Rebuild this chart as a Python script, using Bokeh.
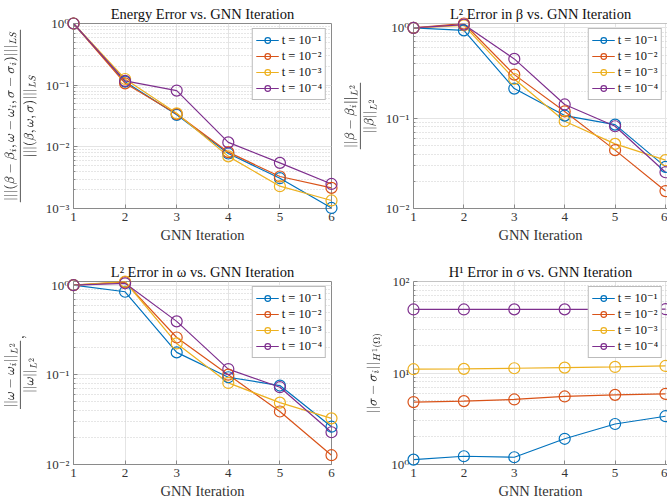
from bokeh.plotting import figure
from bokeh.layouts import gridplot
from bokeh.models import (FixedTicker, CustomJSTickFormatter, Legend, LegendItem, Span)
from bokeh.embed import file_html
from bokeh.resources import INLINE

# ---- data -------------------------------------------------------------
gnn_iter = [1, 2, 3, 4, 5, 6]
t_labels = ["t = 10\u207b\u00b9", "t = 10\u207b\u00b2", "t = 10\u207b\u00b3", "t = 10\u207b\u2074"]

# relative energy (least-squares) error, one list per t
energy_t1 = [1.0, 0.114, 0.033, 0.0078, 0.0031, 0.00102]
energy_t2 = [1.0, 0.107, 0.034, 0.0082, 0.0033, 0.00216]
energy_t3 = [1.0, 0.126, 0.035, 0.0070, 0.0023, 0.00135]
energy_t4 = [1.0, 0.117, 0.0817, 0.0118, 0.0055, 0.0025]

# relative L2 error in beta
beta_t1 = [1.0, 0.94, 0.213, 0.107, 0.085, 0.0289]
beta_t2 = [1.0, 1.12, 0.304, 0.119, 0.0443, 0.0156]
beta_t3 = [1.0, 1.07, 0.272, 0.0927, 0.052, 0.0343]
beta_t4 = [1.0, 1.09, 0.454, 0.142, 0.0815, 0.0252]

# relative L2 error in omega
omega_t1 = [1.0, 0.845, 0.178, 0.094, 0.076, 0.0264]
omega_t2 = [1.0, 1.08, 0.261, 0.1005, 0.039, 0.0127]
omega_t3 = [1.0, 1.10, 0.224, 0.0813, 0.049, 0.0327]
omega_t4 = [1.0, 1.05, 0.395, 0.116, 0.0728, 0.0229]

# H1 error in sigma
sigma_t1 = [1.13, 1.23, 1.20, 1.91, 2.77, 3.37]
sigma_t2 = [4.81, 4.93, 5.14, 5.54, 5.77, 5.91]
sigma_t3 = [11.0, 11.1, 11.27, 11.45, 11.65, 11.94]
sigma_t4 = [49.5, 49.5, 49.6, 49.6, 49.7, 49.8]

# ---- style ------------------------------------------------------------
COLORS = ["#0072BD", "#D95319", "#EDB120", "#7E2F8E"]
FONT = "'Liberation Serif', 'DejaVu Serif', serif"
BOX = "#8a8a8a"

SUP_JS = """
const s = {'-': '\\u207b', '0': '\\u2070', '1': '\\u00b9', '2': '\\u00b2', '3': '\\u00b3',
           '4': '\\u2074', '5': '\\u2075', '6': '\\u2076', '7': '\\u2077', '8': '\\u2078', '9': '\\u2079'};
const e = Math.round(Math.log10(tick));
return '10' + String(e).split('').map(c => s[c]).join('');
"""


def decade_ticks(lo_exp, hi_exp):
    major = [10.0 ** k for k in range(lo_exp, hi_exp + 1)]
    minor = [m * 10.0 ** k for k in range(lo_exp, hi_exp) for m in range(2, 10)]
    return FixedTicker(ticks=major, minor_ticks=minor)


def panel(title, ylabel, ylabel_size, series, y_lo, y_hi, lo_exp, hi_exp, x_end,
          width, height, borders, right_side):
    left, right, top, bottom = borders
    p = figure(width=width, height=height, x_range=(1, x_end), y_range=(y_lo, y_hi),
               y_axis_type="log", output_backend="svg", toolbar_location=None,
               min_border_left=left, min_border_right=right,
               min_border_top=top, min_border_bottom=bottom,
               title=title)
    p.background_fill_color = "white"
    p.border_fill_color = "white"

    p.title.align = "center"
    p.title.text_font = FONT
    p.title.text_font_size = "14.5px"
    p.title.text_font_style = "normal"
    p.title.text_color = "#111111"
    p.title.standoff = 3

    p.xaxis.ticker = FixedTicker(ticks=gnn_iter, minor_ticks=[])
    p.yaxis.ticker = decade_ticks(lo_exp, hi_exp)
    p.yaxis.formatter = CustomJSTickFormatter(code=SUP_JS)
    p.xaxis.axis_label = "GNN Iteration"
    p.yaxis.axis_label = ylabel

    for ax in (p.xaxis[0], p.yaxis[0]):
        ax.major_label_text_font = FONT
        ax.major_label_text_font_size = "13px"
        ax.major_label_text_color = "#333333"
        ax.axis_label_text_font = FONT
        ax.axis_label_text_font_size = "14.5px"
        ax.axis_label_text_font_style = "normal"
        ax.axis_label_text_color = "#333333"
        ax.major_tick_in = 4
        ax.major_tick_out = 0
        ax.minor_tick_in = 2
        ax.minor_tick_out = 0
        ax.major_tick_line_color = BOX
        ax.minor_tick_line_color = BOX
        ax.axis_line_color = BOX
        ax.major_label_standoff = 4
    p.yaxis.axis_label_text_font_size = ylabel_size
    p.xaxis.axis_label_standoff = 3
    p.yaxis.axis_label_standoff = 6

    p.xgrid.grid_line_color = "#e4e4e4"
    p.ygrid.grid_line_color = "#e4e4e4"
    p.ygrid.minor_grid_line_color = "#cdcdcd"
    p.ygrid.minor_grid_line_dash = "1 2"

    if right_side:
        p.outline_line_color = None
        p.add_layout(Span(location=y_hi, dimension="width", line_color=BOX, line_width=1))
    else:
        p.outline_line_color = BOX

    items = []
    for ys, col, lab in zip(series, COLORS, t_labels):
        ln = p.line(gnn_iter, ys, line_color=col, line_width=1.2)
        sc = p.scatter(gnn_iter, ys, marker="circle", size=11, fill_color=None,
                       line_color=col, line_width=1.2, level="overlay")
        items.append(LegendItem(label=lab, renderers=[ln, sc]))

    leg = Legend(items=items, location="top_right", margin=5, padding=3, spacing=0,
                 glyph_width=23, glyph_height=14, label_height=14, label_standoff=3,
                 label_text_font=FONT, label_text_font_size="12.5px",
                 label_text_color="#111111", label_text_line_height=1.0,
                 border_line_color="#777777", background_fill_alpha=1.0)
    p.add_layout(leg)
    return p


p1 = panel("Energy Error vs. GNN Iteration",
           r"$$\frac{|||(\beta-\beta_i,\omega-\omega_i,\sigma-\sigma_i)|||_{LS}}{|||(\beta,\omega,\sigma)|||_{LS}}$$",
           "12px",
           [energy_t1, energy_t2, energy_t3, energy_t4], 1e-3, 1.0, -3, 0, 6,
           340, 250, (72, 9, 22, 42), False)
p2 = panel("L\u00b2 Error in \u03b2 vs. GNN Iteration",
           r"$$\frac{||\beta-\beta_i||_{L^2}}{||\beta||_{L^2}}$$",
           "13px",
           [beta_t1, beta_t2, beta_t3, beta_t4], 1e-2, 1.12, -2, 0, 6.04,
           327, 250, (71, 0, 23, 42), True)
p3 = panel("L\u00b2 Error in \u03c9 vs. GNN Iteration",
           r"$$\frac{||\omega-\omega_i||_{L^2}}{||\omega||_{L^2}},$$",
           "13px",
           [omega_t1, omega_t2, omega_t3, omega_t4], 1e-2, 1.10, -2, 0, 6,
           340, 251, (72, 9, 31, 34), False)
p4 = panel("H\u00b9 Error in \u03c3 vs. GNN Iteration",
           r"$$||\sigma-\sigma_i||_{H^1(\Omega)}$$",
           "13px",
           [sigma_t1, sigma_t2, sigma_t3, sigma_t4], 1.0, 100.0, 0, 2, 6.04,
           327, 251, (71, 0, 30, 35), True)

grid = gridplot([[p1, p2], [p3, p4]], toolbar_location=None)

open("out.html", "w").write(file_html(grid, INLINE))
